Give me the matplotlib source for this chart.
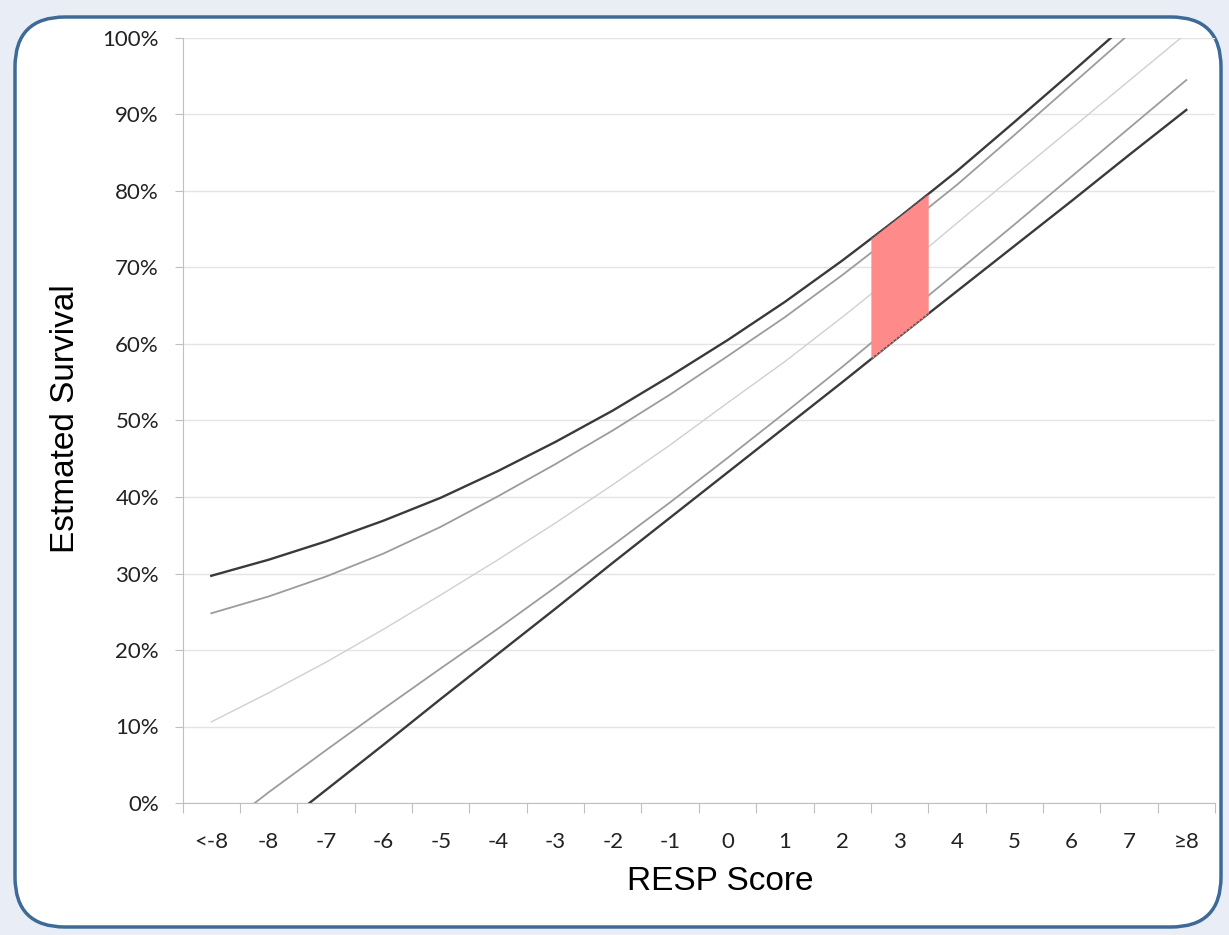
# Estimated survival by RESP score, with confidence bands
import numpy as np
import matplotlib.pyplot as plt
from matplotlib.patches import FancyBboxPatch

# categories on the x axis
scores = ['<-8', '-8', '-7', '-6', '-5', '-4', '-3', '-2', '-1',
          '0', '1', '2', '3', '4', '5', '6', '7', '≥8']

# survival curves (%)
upper_outer = [29.7, 31.8, 34.2, 36.9, 39.9, 43.4, 47.2, 51.3, 55.8,
               60.5, 65.5, 70.9, 76.6, 82.6, 89.0, 95.5, 102.1, 108.6]
upper_inner = [24.8, 27.0, 29.6, 32.6, 36.1, 40.1, 44.3, 48.7, 53.4,
               58.4, 63.5, 69.0, 74.8, 80.8, 87.3, 93.9, 100.5, 107.0]
estimate = [10.6, 14.4, 18.4, 22.7, 27.2, 31.8, 36.6, 41.6, 46.8,
            52.3, 57.7, 63.5, 69.5, 75.8, 82.0, 88.2, 94.4, 100.6]
lower_inner = [-4.4, 1.4, 6.9, 12.3, 17.6, 22.8, 28.2, 33.7, 39.3,
               45.1, 51.0, 57.0, 63.2, 69.4, 75.6, 81.9, 88.2, 94.5]
lower_outer = [-10.1, -4.2, 1.7, 7.6, 13.6, 19.5, 25.4, 31.4, 37.3,
               43.2, 49.1, 55.0, 61.0, 66.9, 72.8, 78.7, 84.7, 90.6]

highlight = '3'
y_ticks = list(range(0, 101, 10))

fig = plt.figure(figsize=(12.29, 9.35), dpi=100)
fig.patch.set_facecolor('#e9eef6')

# rounded white panel, behind the axes
frame = FancyBboxPatch((0.15, 0.08), 12.06, 9.10,
                       boxstyle='round,pad=0,rounding_size=0.5',
                       transform=fig.dpi_scale_trans,
                       facecolor='white', edgecolor='#3e6a97', linewidth=2.5,
                       zorder=-1)
fig.patches.append(frame)

ax = fig.add_axes([182.6 / 1229, 132 / 935, (1215 - 182.6) / 1229, 765 / 935])
ax.set_zorder(1)
ax.set_facecolor('none')

x = np.arange(len(scores))

ax.plot(x, estimate, color='#d0d0d0', lw=1.0, zorder=2)
ax.plot(x, upper_inner, color='#9c9c9c', lw=1.3, zorder=2)
ax.plot(x, lower_inner, color='#9c9c9c', lw=1.3, zorder=2)
ax.plot(x, upper_outer, color='#3a3a3a', lw=1.7, zorder=2)
ax.plot(x, lower_outer, color='#3a3a3a', lw=1.7, zorder=2)

# shaded band for the highlighted score
i = scores.index(highlight)
xs = np.array([i - 0.5, i + 0.5])
top = np.interp(xs, x, upper_outer)
bottom = np.interp(xs, x, lower_outer)
ax.fill_between(xs, bottom, top, color='#ff8a8a', lw=0, zorder=3)
ax.plot(xs, top, color='#555555', lw=1.0, ls=(0, (2, 1)), zorder=4)
ax.plot(xs, bottom, color='#555555', lw=1.0, ls=(0, (2, 1)), zorder=4)

ax.set_xlim(-0.5, len(scores) - 0.5)
ax.set_ylim(0, 100)

# ticks between categories, labels at the centres
ax.set_xticks(np.arange(-0.5, len(scores)), labels=[])
ax.set_xticks(x, labels=scores, minor=True)
ax.tick_params(axis='x', which='major', length=7, color='#bfbfbf', direction='out')
ax.tick_params(axis='x', which='minor', length=0, pad=21, labelsize=16, labelcolor='#222222')
ax.set_yticks(y_ticks, labels=[f'{v}%' for v in y_ticks])
ax.tick_params(axis='y', length=6, color='#bfbfbf', pad=11, labelsize=16, labelcolor='#222222')
for lab in ax.get_xticklabels(minor=True) + ax.get_yticklabels():
    lab.set_family(['Lato', 'DejaVu Sans'])

ax.yaxis.grid(True, color='#e4e4e4', lw=1)
ax.set_axisbelow(True)
for side in ['top', 'right']:
    ax.spines[side].set_visible(False)
for side in ['left', 'bottom']:
    ax.spines[side].set_color('#bfbfbf')

fig.text(720 / 1229, 53 / 935, 'RESP Score', ha='center', va='center',
         fontsize=24, family='Liberation Sans')
fig.text(66 / 1229, 516 / 935, 'Estmated Survival', ha='center', va='center',
         rotation=90, fontsize=24, family='Liberation Sans')

fig.savefig('out.png', dpi=100)
